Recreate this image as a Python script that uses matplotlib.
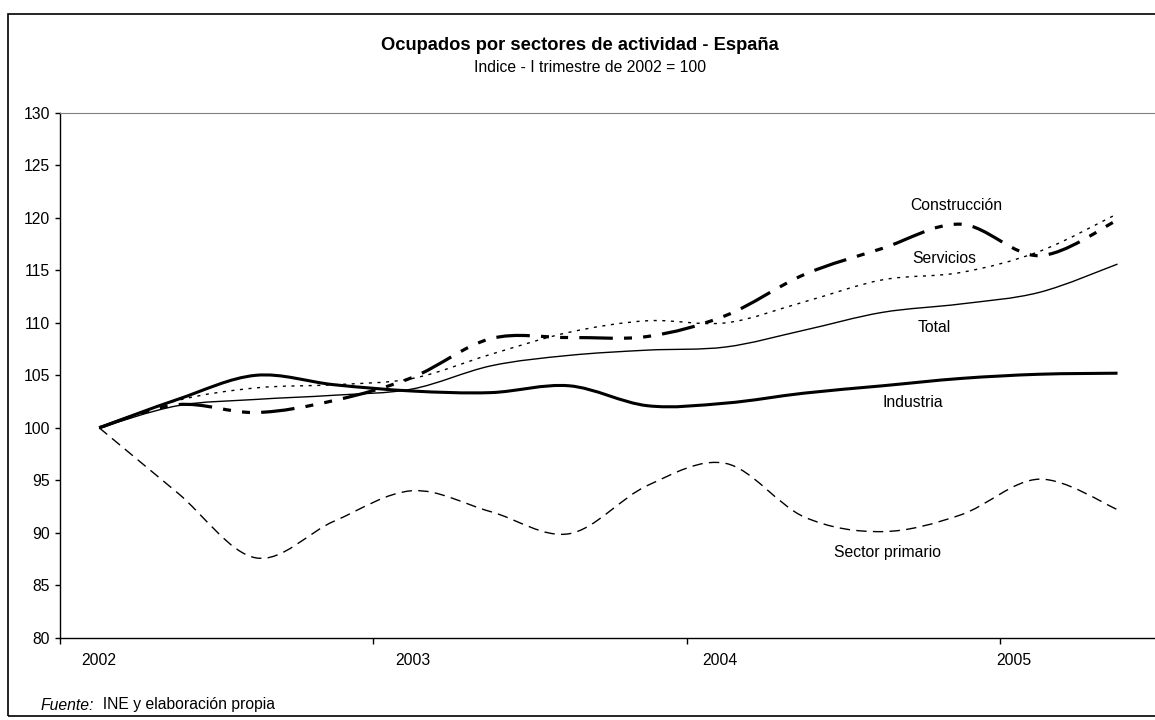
import numpy as np
import matplotlib.pyplot as plt
from matplotlib.path import Path
from matplotlib.patches import PathPatch, Rectangle

plt.rcParams['font.family'] = ['Liberation Sans', 'DejaVu Sans']

# trimestres I-2002 ... II-2005 (indice I trim. 2002 = 100)
trimestres = np.arange(14)
anios = ['2002', '2003', '2004', '2005']

construccion = [100.0, 102.2, 101.45, 102.6, 104.8, 108.5, 108.6, 108.7, 110.7, 114.6, 117.1, 119.4, 116.4, 119.8]
servicios = [100.0, 102.6, 103.8, 104.1, 104.7, 107.0, 109.1, 110.2, 110.0, 112.0, 114.1, 114.8, 116.8, 120.4]
total = [100.0, 102.1, 102.7, 103.1, 103.7, 105.9, 106.9, 107.4, 107.7, 109.3, 111.0, 111.8, 112.9, 115.6]
industria = [100.0, 102.7, 105.0, 104.1, 103.5, 103.35, 104.0, 102.1, 102.35, 103.3, 104.0, 104.7, 105.1, 105.2]
primario = [100.0, 93.8, 87.6, 91.1, 94.0, 92.0, 89.9, 94.5, 96.6, 91.5, 90.1, 91.7, 95.1, 92.2]


def curva(ax, x, y, **kw):
    # linea suavizada tipo Excel (Catmull-Rom -> Bezier)
    p = np.column_stack([x, y]).astype(float)
    ext = np.vstack([p[0], p, p[-1]])
    verts = [p[0]]
    codes = [Path.MOVETO]
    for i in range(len(p) - 1):
        c1 = ext[i + 1] + (ext[i + 2] - ext[i]) / 6
        c2 = ext[i + 2] - (ext[i + 3] - ext[i + 1]) / 6
        verts += [c1, c2, p[i + 1]]
        codes += [Path.CURVE4] * 3
    ax.add_patch(PathPatch(Path(verts, codes), fill=False, color='black', **kw))


W, H = 1155, 720
fig = plt.figure(figsize=(W / 100, H / 100), dpi=100)
ax = fig.add_axes([60 / W, 1 - 637.6 / H, (1156.7 - 60) / W, (637.6 - 113) / H])

curva(ax, trimestres, primario, lw=1.0, linestyle=(0, (7.5, 4.5)))
curva(ax, trimestres, total, lw=1.0)
curva(ax, trimestres, servicios, lw=1.0, linestyle=(0, (2.2, 4.0)))
curva(ax, trimestres, industria, lw=2.2)
curva(ax, trimestres, construccion, lw=2.3, linestyle=(0, (10.5, 3.5, 2.5, 3.5, 2.5, 3.5)))

ax.set_xlim(-0.5, 13.5)
ax.set_ylim(80, 130)
ax.set_yticks(np.arange(80, 131, 5))
ax.set_xticks([-0.5, 3.5, 7.5, 11.5])
ax.set_xticklabels([])
ax.set_xticks([0, 4.0, 7.92, 11.68], minor=True)
ax.set_xticklabels(anios, minor=True)
ax.tick_params(axis='x', which='major', direction='out', length=4, width=1)
ax.tick_params(axis='x', which='minor', length=0, pad=11, labelsize=11.3)
ax.tick_params(axis='y', direction='out', length=3.6, width=1, pad=3.6, labelsize=11.3)

for s in ['left', 'bottom']:
    ax.spines[s].set_color('black')
    ax.spines[s].set_linewidth(1.0)
ax.spines['top'].set_color('#808080')
ax.spines['right'].set_visible(False)

# etiquetas de las series
txt = dict(fontsize=11.3, ha='center', va='center')
ax.text(10.94, 121.2, 'Construcción', **txt)
ax.text(10.79, 116.1, 'Servicios', **txt)
ax.text(10.66, 109.6, 'Total', **txt)
ax.text(10.39, 102.45, 'Industria', **txt)
ax.text(10.06, 88.15, 'Sector primario', **txt)

fig.text(580 / W, 1 - 46 / H, 'Ocupados por sectores de actividad - España',
         fontsize=13.2, fontweight='bold', ha='center', va='center')
fig.text(590 / W, 1 - 67 / H, 'Indice - I trimestre de 2002 = 100',
         fontsize=11.3, ha='center', va='center')

t1 = fig.text(41 / W, 1 - 705 / H, 'Fuente:', fontsize=11.3, style='italic',
              ha='left', va='center')
ax.annotate('  INE y elaboración propia', xy=(1, 0.5), xycoords=t1,
            fontsize=11.3, ha='left', va='center', annotation_clip=False)

fig.patches.append(Rectangle((8 / W, 1 - 716 / H), 1.2, (716 - 14) / H,
                             transform=fig.transFigure, fill=False,
                             edgecolor='black', lw=1.2))

plt.savefig('out.png', dpi=100)
